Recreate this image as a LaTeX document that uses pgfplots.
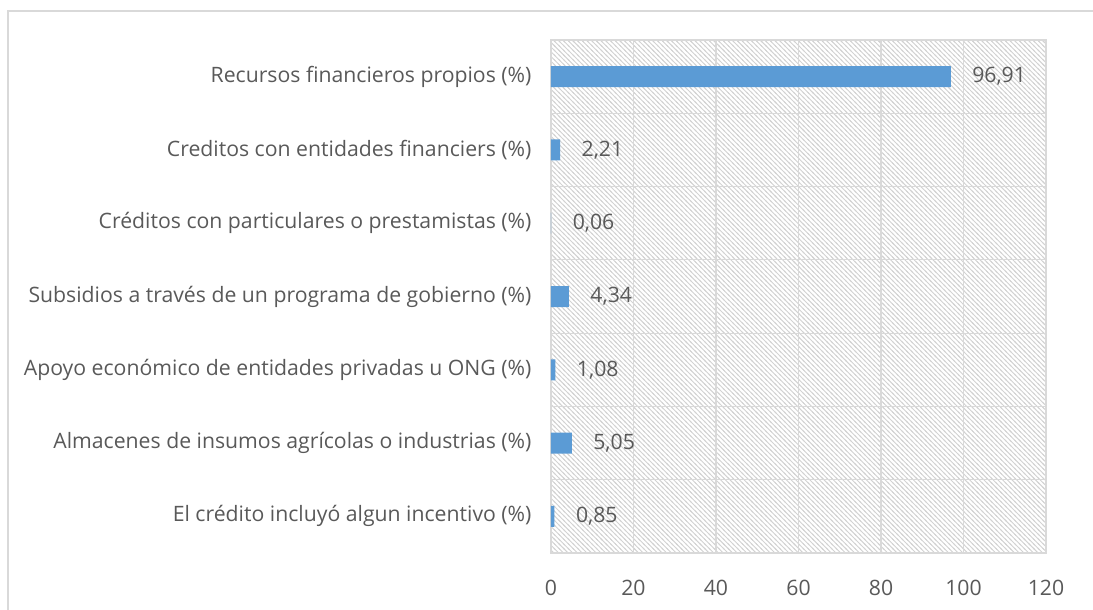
\documentclass[border=0pt]{standalone}
\usepackage{pgfplots}
\pgfplotsset{compat=1.18}
\usetikzlibrary{patterns}
\usepackage{fontspec}
\setmainfont{Open Sans}
\definecolor{barblue}{HTML}{5B9BD5}
\definecolor{txt}{HTML}{595959}
\definecolor{grd}{HTML}{D9D9D9}
\pgfdeclarepatternformonly{hatch}{\pgfpoint{-1bp}{-1bp}}{\pgfpoint{5.7bp}{5.7bp}}{\pgfpoint{4.7bp}{4.7bp}}{%
  \pgfsetlinewidth{0.9bp}%
  \pgfpathmoveto{\pgfpoint{-1bp}{5.7bp}}%
  \pgfpathlineto{\pgfpoint{5.7bp}{-1bp}}%
  \pgfusepath{stroke}}
\begin{document}
\begin{tikzpicture}[x=1bp,y=1bp]
\useasboundingbox (-551,-57) rectangle (542,553);
\draw[grd, line width=1.5bp] (-543,-57) -- (-543,542) -- (542,542);
\begin{axis}[at={(0,0)}, anchor=south west, scale only axis,
  width=495bp, height=513bp,
  xbar, xmin=0, xmax=120, ymin=-0.5, ymax=6.5, y dir=reverse,
  bar width=21bp,
  xtick={0,20,...,120}, ytick={0,...,6},
  yticklabels={Recursos financieros propios (\%),
    Creditos con entidades financiers (\%),
    Créditos con particulares o prestamistas (\%),
    Subsidios a través de un programa de gobierno (\%),
    Apoyo económico de entidades privadas u ONG (\%),
    Almacenes de insumos agrícolas o industrias (\%),
    El crédito incluyó algun incentivo (\%)},
  minor ytick={0.5,1.5,...,5.5},
  yminorgrids=true, xmajorgrids=true,
  grid style={grd, line width=1.2bp}, minor grid style={grd, line width=1.2bp},
  axis line style={grd, line width=1.2bp},
  major tick length=0, minor tick length=0,
  tick style={draw=none},
  axis background/.style={pattern=hatch, pattern color=gray!35},
  /pgf/number format/assume math mode=true,
  ticklabel style={font=\fontsize{21.3}{21.3}\selectfont, text=txt},
  xticklabel style={yshift=-24bp},
  yticklabel style={xshift=-16bp},
  nodes near coords,
  point meta=x,
  nodes near coords style={font=\fontsize{21.3}{21.3}\selectfont, text=txt,
    /pgf/number format/.cd, use comma, fixed, fixed zerofill, precision=2,
    /tikz/.cd, anchor=west, xshift=18bp},
]
\addplot[fill=barblue, draw=none] coordinates {
(96.91,0) (2.21,1) (0.06,2) (4.34,3) (1.08,4) (5.05,5) (0.85,6)};
\end{axis}
\end{tikzpicture}
\end{document}
